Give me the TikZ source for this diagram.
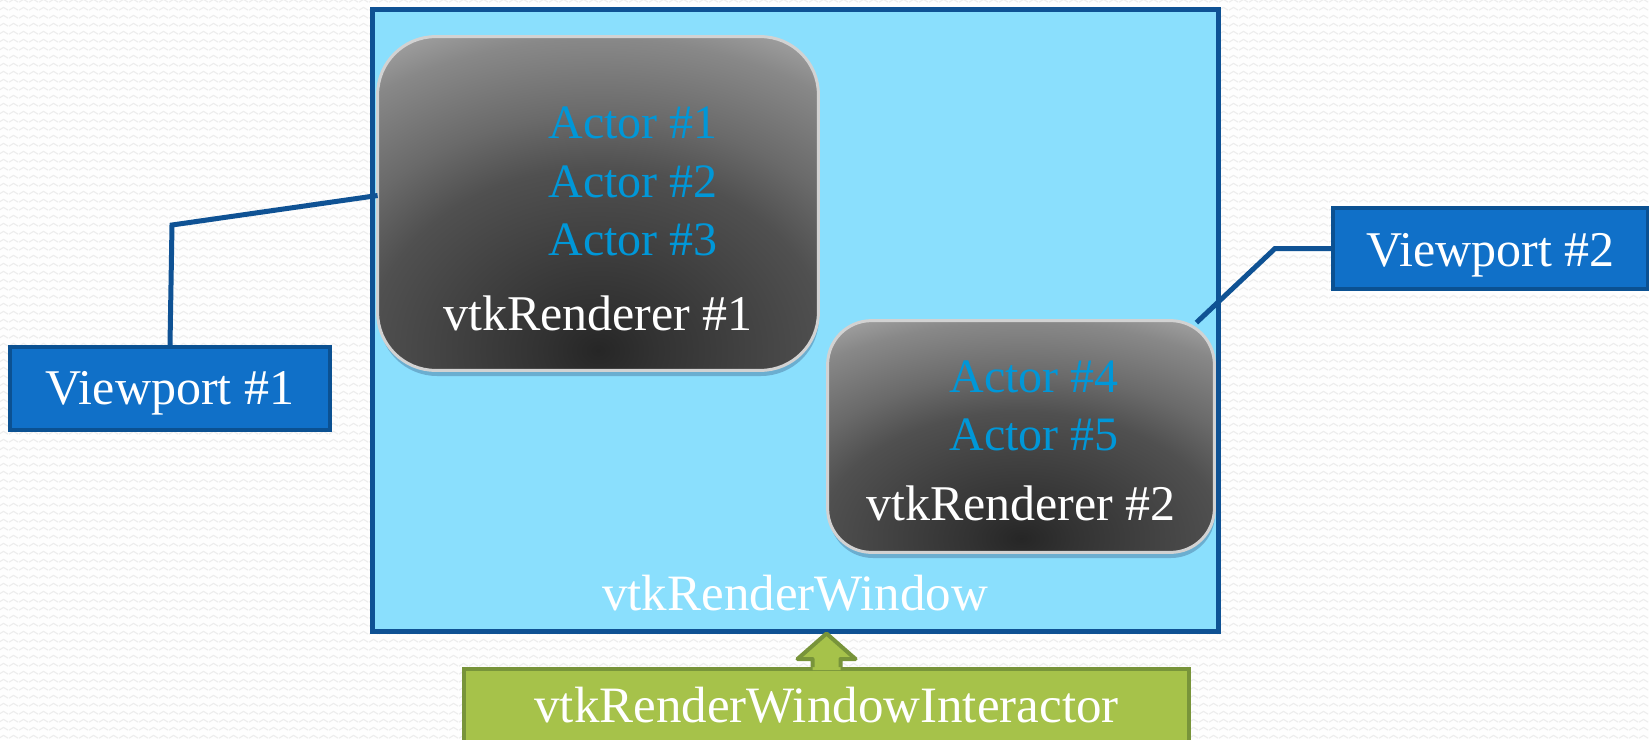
\documentclass[tikz,border=0pt]{standalone}
\usepackage{fontspec}
\setmainfont{Liberation Serif}
\usetikzlibrary{fit,calc,shadows,patterns}
\definecolor{bgc}{HTML}{FEFEFE}
\definecolor{zigc}{HTML}{EDEDED}
\definecolor{winfill}{HTML}{8ADFFD}
\definecolor{winedge}{HTML}{0F5294}
\definecolor{vpfill}{HTML}{1070C8}
\definecolor{vpedge}{HTML}{0B5192}
\definecolor{actorc}{HTML}{0097D8}
\definecolor{grfill}{HTML}{A6C24A}
\definecolor{gredge}{HTML}{78943A}
\definecolor{rimc}{HTML}{D2D2D2}
\definecolor{rd0}{HTML}{262626}
\definecolor{rd1}{HTML}{323232}
\definecolor{rd2}{HTML}{505050}
\definecolor{rd3}{HTML}{6A6A6A}
\definecolor{rd4}{HTML}{888888}
\definecolor{rd5}{HTML}{A6A6A6}
\pgfdeclareradialshading{rendshade}{\pgfpointorigin}{color(0bp)=(rd0);color(3bp)=(rd1);color(12bp)=(rd2);color(15.5bp)=(rd3);color(20.5bp)=(rd4);color(23.5bp)=(rd5);color(25bp)=(rd5);color(50bp)=(rd5)}
\pgfdeclarepatternformonly{zigzag}{\pgfpointorigin}{\pgfpoint{5pt}{4pt}}{\pgfpoint{5pt}{4pt}}{%
  \pgfsetlinewidth{0.6pt}%
  \pgfpathmoveto{\pgfpoint{0pt}{1pt}}%
  \pgfpathlineto{\pgfpoint{2.5pt}{2.6pt}}%
  \pgfpathlineto{\pgfpoint{5pt}{1pt}}%
  \pgfusepath{stroke}}
\tikzset{
  lab/.style={font=\fontsize{24pt}{28pt}\selectfont, inner sep=0pt},
  biglab/.style={font=\fontsize{25.5pt}{30pt}\selectfont, inner sep=0pt, text=white, anchor=base},
  actor/.style={lab, text=actorc, anchor=base west},
  vlab/.style={font=\fontsize{25pt}{30pt}\selectfont, inner sep=0pt, text=white, anchor=base},
  rlab/.style={font=\fontsize{25pt}{30pt}\selectfont, inner sep=0pt, text=white, anchor=base},
  winbox/.style={inner sep=0pt, draw=winedge, fill=winfill, line width=2.5pt},
  rendbox/.style={inner sep=0pt, fill=rd2,
     drop shadow={shadow xshift=0.5pt, shadow yshift=-3pt, fill=black!80!blue, opacity=0.22}},
  rim/.style={draw=rimc, line width=1.5pt},
  vpbox/.style={inner sep=0pt, draw=vpedge, fill=vpfill, line width=2pt},
  iabox/.style={inner sep=0pt, draw=gredge, fill=grfill, line width=2pt},
  conn/.style={draw=winedge, line width=2.5pt},
}
\begin{document}
\begin{tikzpicture}[x=0.5pt,y=-0.5pt]
\clip (0,0) rectangle (1649,739);
\fill[bgc] (0,0) rectangle (1649,739);
\fill[pattern=zigzag, pattern color=zigc] (0,0) rectangle (1649,739);
% main window
\node[winbox, fit={(372.5,9.5) (1218,631)}] (win) {};
% renderer 1
\node[rendbox, rounded corners=29pt, fit={(378,37) (818,370)}] (r1) {};
\begin{scope}
  \clip[rounded corners=29pt] (r1.south west) rectangle (r1.north east);
  \path[shading=rendshade] ($(r1.south)+(0,-20)$) ellipse (480 and 380);
\end{scope}
\draw[rim, rounded corners=29pt] (r1.south west) rectangle (r1.north east);
% renderer 2
\node[rendbox, rounded corners=22pt, fit={(828,321) (1214,552)}] (r2) {};
\begin{scope}
  \clip[rounded corners=22pt] (r2.south west) rectangle (r2.north east);
  \path[shading=rendshade] ($(r2.south)+(0,-14)$) ellipse (421 and 264);
\end{scope}
\draw[rim, rounded corners=22pt] (r2.south west) rectangle (r2.north east);
% viewports
\node[vpbox, fit={(10,347) (330,430)}] (vp1) {};
\node[vpbox, fit={(1333,208) (1648,289)}] (vp2) {};
% interactor
\node[iabox, fit={(464,669) (1189,760)}] (ia) {};
% arrow from interactor to window
\coordinate (ab) at (ia.north);
\coordinate (tip) at (ab |- win.south);
\fill[grfill] ($(ab)+(-14,3)$) -- ($(ab)+(-14,-8)$) -- ($(ab)+(-29,-8)$) -- (tip) -- ($(ab)+(29,-8)$) -- ($(ab)+(14,-8)$) -- ($(ab)+(14,3)$) -- cycle;
\draw[gredge, line width=2pt, line join=round] ($(ab)+(-14,0)$) -- ($(ab)+(-14,-8)$) -- ($(ab)+(-29,-8)$) -- (tip) -- ($(ab)+(29,-8)$) -- ($(ab)+(14,-8)$) -- ($(ab)+(14,0)$);
% connectors
\draw[conn] (vp1.north) -- (172,225) -- ($(r1.west)+(0,-8)$);
\draw[conn] (vp2.west) -- ++(-56,0) coordinate (bend2) -- ($(r2.north east)+(-18,2)$);
% texts
\node[actor] (a1) at (548,138) {Actor \#1};
\node[actor] (a2) at (548,197) {Actor \#2};
\node[actor] (a3) at (548,255) {Actor \#3};
\node[rlab] (t1) at ($(r1.center |- 0,330)$) {vtkRenderer \#1};
\node[actor] (a4) at (949,392) {Actor \#4};
\node[actor] (a5) at (949,450) {Actor \#5};
\node[rlab] (t2) at ($(r2.center |- 0,520)$) {vtkRenderer \#2};
\node[vlab] (tv1) at ($(vp1.center |- 0,404)$) {Viewport \#1};
\node[vlab] (tv2) at ($(vp2.center |- 0,266)$) {Viewport \#2};
\node[biglab] (tw) at ($(win.center |- 0,610)$) {vtkRenderWindow};
\node[biglab] (ti) at ($(ia.center |- 0,722)$) {vtkRenderWindowInteractor};
\end{tikzpicture}
\end{document}
